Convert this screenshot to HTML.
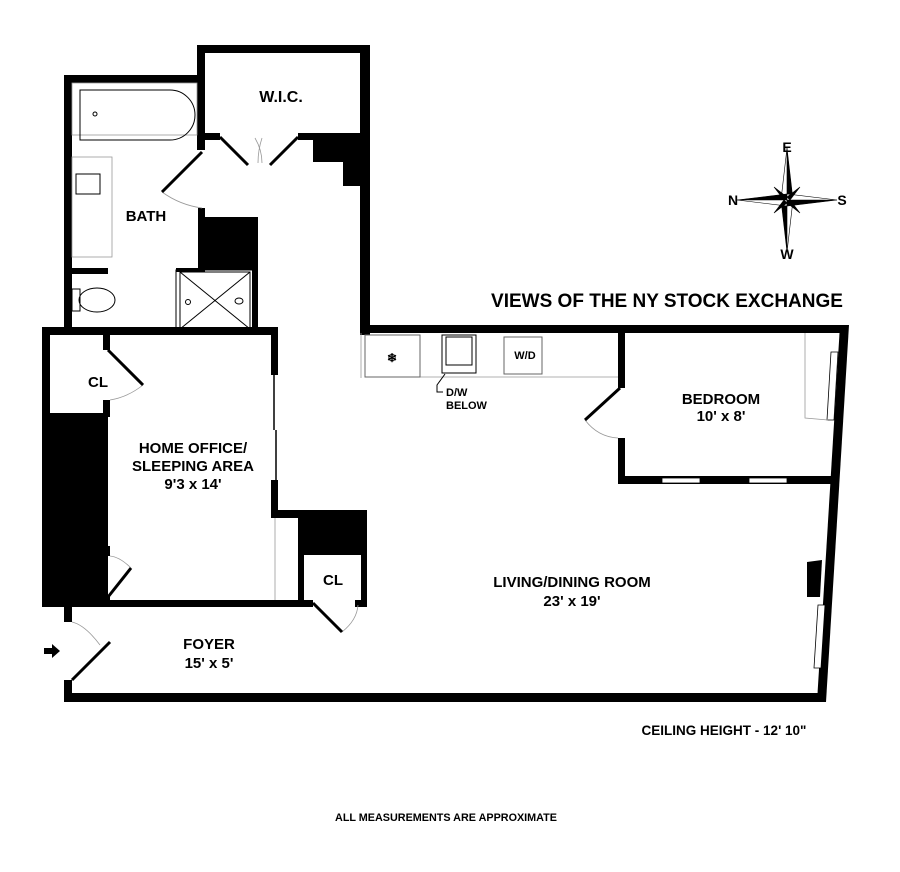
<!DOCTYPE html>
<html><head><meta charset="utf-8"><style>
html,body{margin:0;padding:0;background:#fff;}
svg{display:block;}
text{font-family:"Liberation Sans",Arial,sans-serif;font-weight:bold;fill:#000;}
</style></head><body>
<svg width="900" height="872" viewBox="0 0 900 872" xmlns="http://www.w3.org/2000/svg">
<g fill="#000">
<rect x="64" y="75" width="141" height="8"/>
<rect x="64" y="75" width="8" height="258"/>
<rect x="197" y="45" width="173" height="8"/>
<rect x="197" y="45" width="8" height="105"/>
<rect x="360" y="45" width="10" height="290"/>
<rect x="197" y="133" width="23" height="7"/>
<rect x="298" y="133" width="62" height="7"/>
<polygon points="313,140 360,140 360,186 343,186 343,162 313,162"/>
<rect x="198" y="208" width="7" height="62"/>
<rect x="205" y="217" width="53" height="53"/>
<rect x="176" y="268" width="29" height="4"/>
<rect x="252" y="268" width="6" height="65"/>
<rect x="72" y="268" width="36" height="6"/>
<rect x="42" y="327" width="236" height="8"/>
<rect x="42" y="327" width="8" height="280"/>
<rect x="42" y="415" width="66" height="192"/>
<rect x="50" y="413" width="58" height="4"/>
<rect x="103" y="335" width="7" height="15"/>
<rect x="103" y="400" width="7" height="17"/>
<rect x="72" y="546" width="36" height="4"/>
<rect x="103" y="546" width="7" height="10"/>
<rect x="103" y="595" width="7" height="10"/>
<rect x="271" y="335" width="7" height="40"/>
<rect x="271" y="480" width="7" height="38"/>
<rect x="271" y="510" width="96" height="8"/>
<rect x="298" y="510" width="69" height="45"/>
<rect x="298" y="555" width="6" height="52"/>
<rect x="361" y="555" width="6" height="52"/>
<rect x="42" y="600" width="271" height="7"/>
<rect x="355" y="600" width="12" height="7"/>
<rect x="64" y="605" width="8" height="17"/>
<rect x="64" y="680" width="8" height="22"/>
<rect x="64" y="693" width="762" height="9"/>
<rect x="360" y="325" width="488" height="8"/>
<polygon points="840,325 849,325 826,702 817,702"/>
<rect x="618" y="333" width="7" height="55"/>
<rect x="618" y="438" width="7" height="46"/>
<rect x="618" y="476" width="213" height="8"/>
<polygon points="807,562 822,560 820,597 807,597"/>
</g>
<g fill="#fff" stroke="#000" stroke-width="0.8">
<rect x="662" y="478" width="38" height="5"/>
<rect x="749" y="478" width="38" height="5"/>
<polygon points="831,352 838,352 834,420 827,420"/>
<polygon points="818,605 825,605 821,668 814,668"/>
</g>
<g stroke="#000" fill="none">
<line x1="274" y1="375" x2="274" y2="430" stroke-width="1.5"/>
<line x1="276" y1="430" x2="276" y2="480" stroke-width="1.5"/>
</g>
<g stroke="#999" fill="none" stroke-width="0.8">
<line x1="275" y1="518" x2="275" y2="600"/>
<line x1="361" y1="333" x2="361" y2="378"/>
<line x1="365" y1="377" x2="618" y2="377"/>
<polyline points="805,333 805,418 828,420"/>
<rect x="72" y="157" width="40" height="100"/>
<rect x="72" y="83" width="125" height="52"/>
<path d="M162,192 Q180,205 202,208"/>
<path d="M255,138 Q262,150 262,163"/>
<path d="M262,138 Q258,150 258,163"/>
<path d="M143,385 Q128,397 110,400"/>
<path d="M131,568 Q120,557 110,556"/>
<path d="M342,632 Q357,620 358,605"/>
<path d="M100,645 Q85,625 72,622"/>
<path d="M585,420 Q598,437 618,438"/>
</g>
<g stroke="#000" stroke-width="3" fill="none">
<line x1="202" y1="152" x2="162" y2="192"/>
<line x1="220" y1="137" x2="248" y2="165"/>
<line x1="298" y1="137" x2="270" y2="165"/>
<line x1="108" y1="350" x2="143" y2="385"/>
<line x1="108" y1="597" x2="131" y2="568"/>
<line x1="313" y1="603" x2="342" y2="632"/>
<line x1="72" y1="680" x2="110" y2="642"/>
<line x1="620" y1="388" x2="585" y2="420"/>
</g>
<g stroke="#000" fill="none" stroke-width="1">
<path d="M80,90 H170 A25,25 0 0 1 170,140 H80 Z"/>
<circus/>
<circle cx="95" cy="114" r="2"/>
<rect x="76" y="174" width="24" height="20"/>
<rect x="180" y="272" width="70" height="57"/>
<rect x="176" y="270" width="78" height="62"/>
<line x1="180" y1="272" x2="250" y2="329"/>
<line x1="250" y1="272" x2="180" y2="329"/>
<circle cx="188" cy="302" r="2.5"/>
<ellipse cx="239" cy="301" rx="4" ry="3"/>
<ellipse cx="97" cy="300" rx="18" ry="12"/>
<rect x="72" y="289" width="8" height="22"/>
<rect x="365" y="335" width="55" height="42" stroke="#666"/>
<rect x="442" y="335" width="34" height="38"/>
<rect x="446" y="337" width="26" height="28"/>
<rect x="504" y="337" width="38" height="37" stroke="#666"/>
<polyline points="445,374 437,385 437,392 443,392"/>
</g>
<text x="392" y="362" font-size="12" font-weight="normal" text-anchor="middle">❄</text>
<polygon points="44,648 52,648 52,644 60,651 52,658 52,654 44,654" fill="#000"/>
<g transform="translate(787,200)" fill="#000" stroke="#000" stroke-width="0.6">
<polygon points="0,-52 6,0 0,0"/><polygon points="0,-52 -6,0 0,0" fill="#fff"/>
<polygon points="0,52 -6,0 0,0"/><polygon points="0,52 6,0 0,0" fill="#fff"/>
<polygon points="-50,0 0,-6 0,0"/><polygon points="-50,0 0,6 0,0" fill="#fff"/>
<polygon points="50,0 0,6 0,0"/><polygon points="50,0 0,-6 0,0" fill="#fff"/>
<polygon points="-13,-13 0,-3 -3,0"/><polygon points="13,-13 3,0 0,-3"/>
<polygon points="-13,13 -3,0 0,3"/><polygon points="13,13 0,3 3,0"/>
</g>
<g font-size="14">
<text x="787" y="152" text-anchor="middle">E</text>
<text x="787" y="259" text-anchor="middle">W</text>
<text x="733" y="205" text-anchor="middle">N</text>
<text x="842" y="205" text-anchor="middle">S</text>
</g>
<g font-size="15" text-anchor="middle">
<text x="281" y="102" font-size="16">W.I.C.</text>
<text x="146" y="221">BATH</text>
<text x="98" y="387">CL</text>
<text x="91" y="582">CL</text>
<text x="333" y="585">CL</text>
<text x="193" y="453">HOME OFFICE/</text>
<text x="193" y="471">SLEEPING AREA</text>
<text x="193" y="489">9'3 x 14'</text>
<text x="209" y="649">FOYER</text>
<text x="209" y="668">15' x 5'</text>
<text x="572" y="587">LIVING/DINING ROOM</text>
<text x="572" y="606">23' x 19'</text>
<text x="721" y="404">BEDROOM</text>
<text x="721" y="421">10' x 8'</text>
</g>
<text x="667" y="307" font-size="19" text-anchor="middle">VIEWS OF THE NY STOCK EXCHANGE</text>
<text x="724" y="735" font-size="13.5" text-anchor="middle">CEILING HEIGHT - 12' 10"</text>
<text x="446" y="821" font-size="10.8" text-anchor="middle">ALL MEASUREMENTS ARE APPROXIMATE</text>
<text x="525" y="359" font-size="11" text-anchor="middle">W/D</text>
<text x="446" y="396" font-size="11">D/W</text>
<text x="446" y="409" font-size="11">BELOW</text>
</svg>
</body></html>
